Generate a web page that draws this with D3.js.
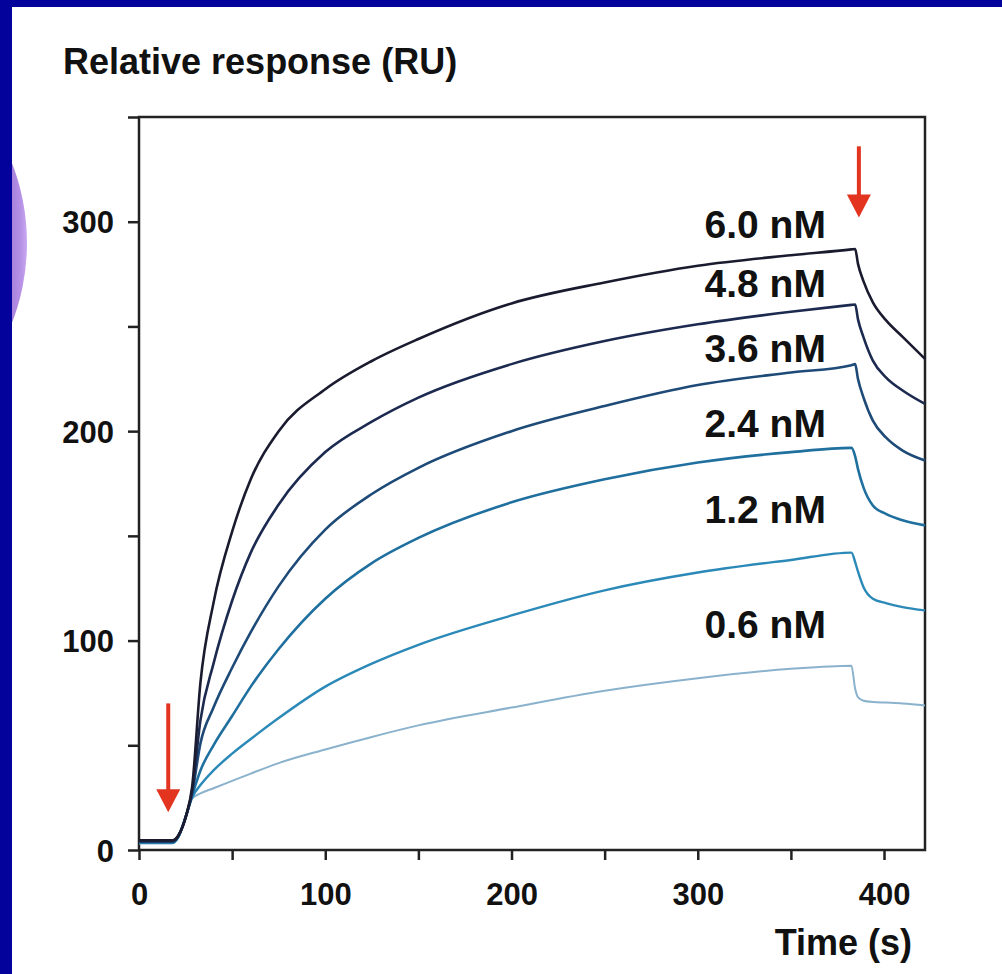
<!DOCTYPE html>
<html>
<head>
<meta charset="utf-8">
<script src="https://cdn.jsdelivr.net/npm/d3@7"></script>
<style>
    body { margin: 0; background: #ffffff; }
    svg { display: block; }
    text { font-family: "Liberation Sans", Arial, sans-serif; font-weight: bold; fill: #111; }
</style>
</head>
<body>
<div id="chart"></div>
<script>
// Sensorgram data (time in s, response in RU)
const times = [0, 18, 21, 25.5, 28.5, 33, 40, 50, 60, 75, 100, 125, 150, 200, 250, 300, 350,
    382.5, 384.5, 386, 389, 394, 401, 410, 422];

const conc = ["6.0 nM", "4.8 nM", "3.6 nM", "2.4 nM", "1.2 nM", "0.6 nM"];

const resp60 = [4.6, 4.6, 6.8, 17, 30, 80, 118, 152, 177, 200, 220, 233.5, 244, 261, 271, 279, 284,
    286.8, 287, 280, 271.5, 261.5, 253, 245, 234.5];
const resp48 = [4.3, 4.3, 6.6, 17, 28, 62, 89, 119, 142, 165, 190, 204.5, 216, 232, 243, 251, 257,
    260.3, 260.5, 253.5, 244.8, 233.7, 225.7, 219.4, 213];
const resp36 = [4, 4, 6.4, 17, 27, 51, 68, 87, 104, 126, 153, 170, 182.5, 200, 212, 222, 228,
    231.5, 232, 225, 216, 205, 197, 190.7, 186];
const resp24 = [3.7, 3.7, 6.2, 17, 26, 38, 50, 64, 78, 96, 120, 137, 149, 166, 177, 185, 190,
    192, 188, 182, 173, 164.5, 160.5, 157.4, 155];
const resp12 = [3.4, 3.4, 6, 17, 25, 31, 38, 46, 53, 63, 78, 89, 98, 112, 124, 132.5, 138.5,
    142, 137.5, 133, 125.5, 120, 117.9, 116, 114.4];
const resp06 = [3.1, 3.1, 5.8, 17, 24.5, 27, 29.5, 33, 36.5, 41.5, 48, 54, 59.5, 68, 76, 82, 86.5,
    88, 77, 73, 71.3, 70.7, 70.4, 70, 69];

// Where each concentration label sits (RU of the text baseline)
const labelRU = [292, 264, 233, 197, 156, 101];

const xTicks = [0, 50, 100, 150, 200, 250, 300, 350, 400];
const yTicks = [0, 50, 100, 150, 200, 250, 300, 350];

// Injection start / end arrows: [time, top RU, tip RU]
const arrowsData = [[15.7, 70, 18], [386.5, 336, 302]];

const series = [resp60, resp48, resp36, resp24, resp12, resp06];
const colors = ["#1a1b2e", "#1d2a50", "#1e4a78", "#1f6f9f", "#2b89b8", "#8ab2cd"];
const widths = [2.6, 2.6, 2.6, 2.6, 2.4, 2];

const width = 1002;
const height = 974;

const svg = d3.select("#chart")
    .append("svg")
    .attr("width", width)
    .attr("height", height);

// Slide background: white panel, purple bubble, blue frame
const defs = svg.append("defs");
const grad = defs.append("linearGradient")
    .attr("id", "bubble")
    .attr("gradientUnits", "userSpaceOnUse")
    .attr("x1", 12).attr("y1", 0)
    .attr("x2", 27).attr("y2", 0);
grad.append("stop").attr("offset", "0%").attr("stop-color", "#a882de");
grad.append("stop").attr("offset", "65%").attr("stop-color", "#b893e7");
grad.append("stop").attr("offset", "100%").attr("stop-color", "#cbaaf3");

svg.append("rect").attr("width", width).attr("height", height).attr("fill", "#ffffff");
svg.append("circle")
    .attr("cx", -194).attr("cy", 243).attr("r", 221)
    .attr("fill", "url(#bubble)");
svg.append("rect").attr("x", 0).attr("y", 0).attr("width", 12).attr("height", height).attr("fill", "#03039c");
svg.append("rect").attr("x", 0).attr("y", 0).attr("width", width).attr("height", 7).attr("fill", "#03039c");

// Scales
const x = d3.scaleLinear().domain([0, 422]).range([139, 925]);
const y = d3.scaleLinear().domain([0, 350]).range([850, 117]);

// Frame
svg.append("rect")
    .attr("x", x(0)).attr("y", y(350))
    .attr("width", x(422) - x(0)).attr("height", y(0) - y(350))
    .attr("fill", "none")
    .attr("stroke", "#222")
    .attr("stroke-width", 2.5);

// Axes
const yAxis = svg.append("g")
    .attr("transform", `translate(${x(0)},0)`)
    .call(d3.axisLeft(y)
        .tickValues(yTicks)
        .tickSize(11)
        .tickPadding(14)
        .tickFormat(d => (d % 100 === 0 && d < 350) ? d : ""));
yAxis.select(".domain").remove();
yAxis.selectAll(".tick line").attr("stroke", "#222").attr("stroke-width", 2.5);
yAxis.selectAll(".tick text")
    .attr("x", -25)
    .attr("dy", "0.36em")
    .style("font-size", "31px")
    .attr("fill", "#111");

const xAxis = svg.append("g")
    .attr("transform", `translate(0,${y(0)})`)
    .call(d3.axisBottom(x)
        .tickValues(xTicks)
        .tickSize(10)
        .tickFormat(d => d % 100 === 0 ? d : ""));
xAxis.select(".domain").remove();
xAxis.selectAll(".tick line").attr("stroke", "#222").attr("stroke-width", 2.5);
xAxis.selectAll(".tick text")
    .attr("y", 55)
    .attr("dy", 0)
    .style("font-size", "31px")
    .attr("fill", "#111");

// Axis titles
svg.append("text")
    .attr("x", 63).attr("y", 74)
    .style("font-size", "36px")
    .text("Relative response (RU)");

svg.append("text")
    .attr("x", 912).attr("y", 955)
    .attr("text-anchor", "end")
    .style("font-size", "36px")
    .text("Time (s)");

// Curves, lightest first so the dark ones sit on top
const line = d3.line()
    .x((d, i) => x(times[i]))
    .y(d => y(d))
    .curve(d3.curveMonotoneX);

svg.append("g")
    .attr("class", "curves")
    .selectAll("path")
    .data(series.map((s, i) => ({ values: s, color: colors[i], w: widths[i] })).reverse())
    .enter().append("path")
    .attr("d", d => line(d.values))
    .attr("fill", "none")
    .attr("stroke", d => d.color)
    .attr("stroke-width", d => d.w)
    .attr("stroke-linejoin", "round");

// Concentration labels
svg.append("g")
    .attr("class", "labels")
    .selectAll("text")
    .data(conc)
    .enter().append("text")
    .attr("x", x(368.8))
    .attr("y", (d, i) => y(labelRU[i]))
    .attr("text-anchor", "end")
    .style("font-size", "39px")
    .text(d => d);

// Red arrows
const arrow = svg.append("g").attr("class", "arrows");
arrowsData.forEach(a => {
    const ax = x(a[0]);
    const top = y(a[1]);
    const tip = y(a[2]);
    arrow.append("line")
        .attr("x1", ax).attr("x2", ax)
        .attr("y1", top).attr("y2", tip - 15)
        .attr("stroke", "#e2341f")
        .attr("stroke-width", 4);
    arrow.append("path")
        .attr("d", `M${ax - 12},${tip - 23} L${ax + 12},${tip - 23} L${ax},${tip} Z`)
        .attr("fill", "#e2341f");
});
</script>
</body>
</html>
